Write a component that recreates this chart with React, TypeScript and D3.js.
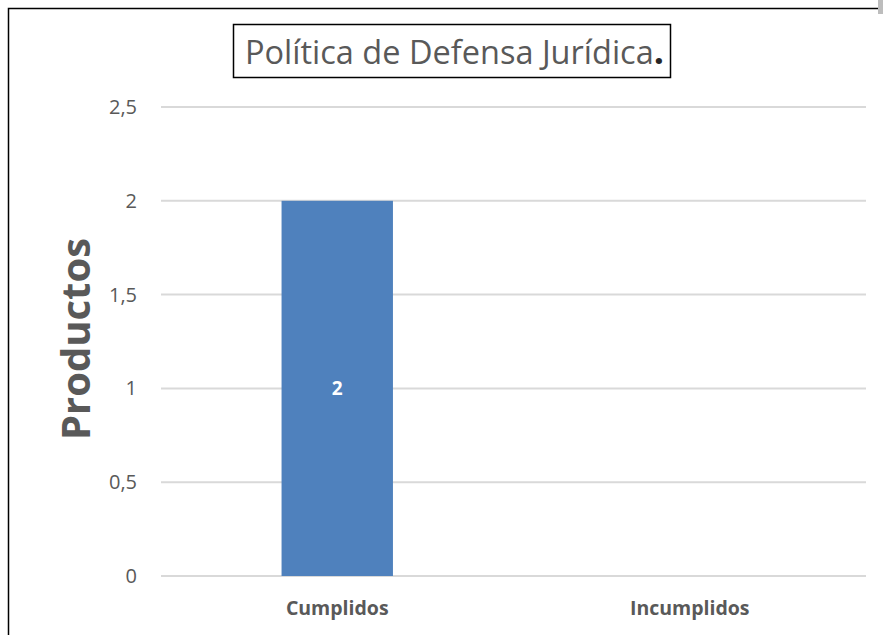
import React from "react";
import * as d3 from "d3";

const categories = ["Cumplidos", "Incumplidos"];
const values = [2, 0];
const yTicks = [0, 0.5, 1, 1.5, 2, 2.5];
const titleText = "Política de Defensa Jurídica";
const yAxisTitle = "Productos";

export default function App() {
  const W = 883, H = 635;
  const left = 161, right = 866, top = 107, bottom = 576;
  const x = d3.scaleBand<string>().domain(categories).range([left, right]).paddingInner(0.684).paddingOuter(0.342);
  const y = d3.scaleLinear().domain([0, 2.5]).range([bottom, top]);
  const fmt = (v: number) => String(v).replace(".", ",");
  const font = "'Open Sans', sans-serif";
  const grey = "#595959";
  return (
    <svg width={W} height={H} style={{ position: "absolute", left: 0, top: 0, background: "#fff" }}>
      <rect x={0} y={0} width={W} height={H} fill="#fff" />
      <path d={`M8.5,${H} V8.5 H878`} fill="none" stroke="#000" strokeWidth={1.5} />
      <rect x={878} y={0} width={5} height={14} fill="#bdbdbd" />
      {yTicks.map((t) => (
        <g key={t}>
          <line x1={left} x2={right} y1={y(t)} y2={y(t)} stroke="#d9d9d9" strokeWidth={2} />
          <text x={137} y={y(t)} dy="0.35em" textAnchor="end" fontFamily={font} fontSize={20} fill={grey}>
            {fmt(t)}
          </text>
        </g>
      ))}
      {categories.map((c, i) => (
        <g key={c}>
          {values[i] > 0 && (
            <>
              <rect x={x(c)} y={y(values[i])} width={x.bandwidth()} height={y(0) - y(values[i])} fill="#4F81BD" />
              <text x={(x(c) as number) + x.bandwidth() / 2} y={y(values[i] / 2)} dy="0.35em" textAnchor="middle"
                fontFamily={font} fontWeight="bold" fontSize={19} fill="#fff">
                {values[i]}
              </text>
            </>
          )}
          <text x={(x(c) as number) + x.bandwidth() / 2} y={608} dy="0.35em" textAnchor="middle"
            fontFamily={font} fontWeight="bold" fontSize={19.5} fill={grey}>
            {c}
          </text>
        </g>
      ))}
      <rect x={233.5} y={24.5} width={437} height={53} fill="#fff" stroke="#000" strokeWidth={1.5} />
      <text x={245} y={53} dy="0.35em" fontFamily={font} fontSize={32.5} fill={grey}>
        {titleText}<tspan fontWeight="bold" fontSize={36} fill="#262626">.</tspan>
      </text>
      <text transform={`translate(76,339) rotate(-90)`} dy="0.35em" textAnchor="middle" fontFamily={font}
        fontWeight="bold" fontSize={40} fill={grey}>
        {yAxisTitle}
      </text>
    </svg>
  );
}
